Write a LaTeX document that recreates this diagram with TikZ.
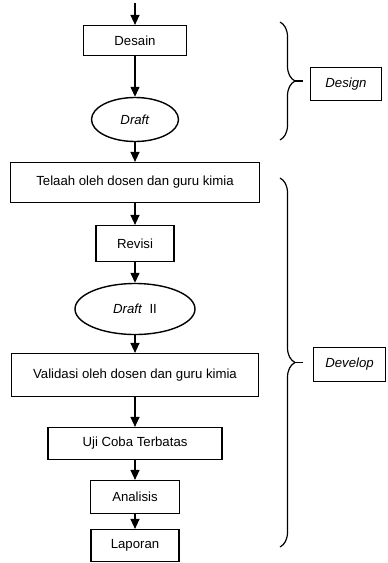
\documentclass[tikz,border=0pt]{standalone}
\usepackage{fontspec}
\setmainfont{Liberation Sans}
\usetikzlibrary{arrows.meta,positioning,shapes.geometric,decorations.pathreplacing}

\begin{document}
\begin{tikzpicture}[x=1pt,y=-1pt, every node/.style={font=\fontsize{13.2}{15}\selectfont,align=center,inner sep=1pt}, box/.style={draw,line width=1.2pt}, oval/.style={draw,ellipse,line width=1.4pt}, phase/.style={draw,line width=1.2pt,font=\fontsize{13.2}{15}\selectfont\itshape}, arr/.style={-{Triangle[length=10pt,width=9pt]},line width=1.3pt}, brc/.style={decorate,decoration={brace,amplitude=15pt,aspect=0.5},line width=1.2pt}]
\useasboundingbox (0,0) rectangle (388,563);
\coordinate (start) at (135,3);
\node[box,minimum width=103pt,minimum height=30pt] (desain) at (135,40.5) {Desain};
\node[oval,minimum width=87pt,minimum height=44pt] (draft) at (135,119.5) {\textit{Draft}};
\node[box,minimum width=249pt,minimum height=40pt] (telaah) at (135,182.5) {Telaah oleh dosen dan guru kimia};
\node[box,minimum width=78pt,minimum height=36pt] (revisi) at (135,243.5) {Revisi};
\node[oval,minimum width=120pt,minimum height=51pt] (draftdua) at (135,309) {\textit{Draft}\ \ II};
\node[box,minimum width=247pt,minimum height=43pt] (validasi) at (135,375) {Validasi oleh dosen dan guru kimia};
\node[box,minimum width=174pt,minimum height=32pt] (uji) at (135,443.5) {Uji Coba Terbatas};
\node[box,minimum width=89pt,minimum height=33pt] (analisis) at (135,497) {Analisis};
\node[box,minimum width=88pt,minimum height=32pt] (laporan) at (135,545.5) {Laporan};
\draw[arr] (start)--(desain); \draw[arr] (desain)--(draft); \draw[arr] (draft)--(telaah); \draw[arr] (telaah)--(revisi);
\draw[arr] (revisi)--(draftdua); \draw[arr] (draftdua)--(validasi); \draw[arr] (validasi)--(uji); \draw[arr] (uji)--(analisis); \draw[arr] (analisis)--(laporan);
% tahap
\node[phase,minimum width=71pt,minimum height=33pt] (design) at (346,84) {Design};
\node[phase,minimum width=72pt,minimum height=34pt] (develop) at (349.5,364.5) {Develop};
\draw[brc] (280,22) -- (280,140);
\coordinate (tipa) at (295,81); \coordinate (enda) at (303,81);
\draw[line width=1.2pt] (tipa)--(enda);
\draw[brc] (280,178) -- (280,547);
\coordinate (tipb) at (295,362.5); \coordinate (endb) at (303,362.5);
\draw[line width=1.2pt] (tipb)--(endb);
\end{tikzpicture}
\end{document}
